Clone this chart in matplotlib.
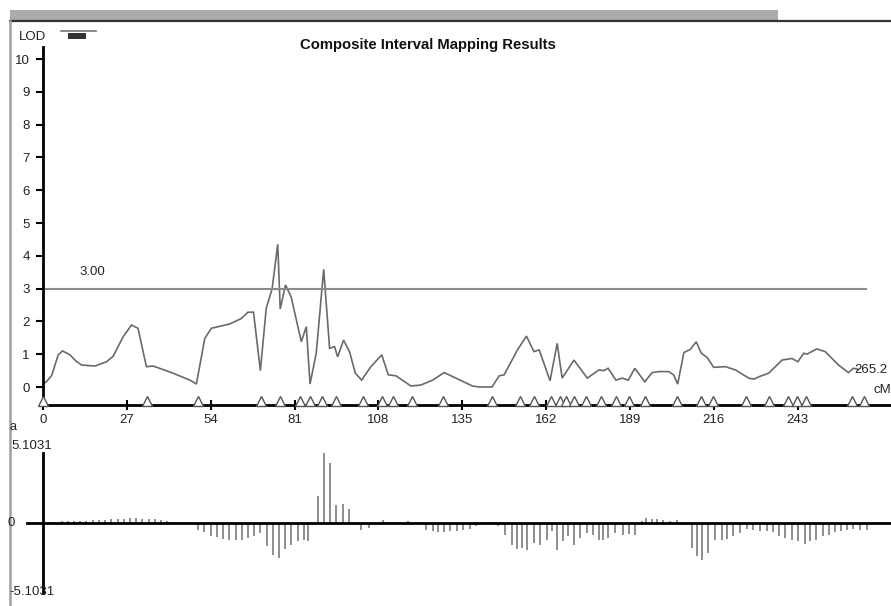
import matplotlib
matplotlib.use("Agg")
import matplotlib.pyplot as plt
from matplotlib.patches import Rectangle
from matplotlib.lines import Line2D

plt.rcParams['font.family'] = ['Liberation Sans', 'DejaVu Sans']

# ---- LOD profile along the chromosome (cM, LOD) ----
lod_cm = [0, 1.0, 2.8, 4.9, 6.3, 8.7, 10.5, 12.4, 16.7, 20.5, 22.6, 25.8, 28.5, 30.6,
          33.3, 35.5, 41.9, 47.3, 49.4, 52.1, 54.2, 60.1, 63.9, 66.0, 67.8, 70.0, 71.9,
          73.8, 75.6, 76.4, 78.1, 79.9, 83.2, 84.8, 86.0, 88.0, 90.4, 92.3, 93.9, 94.9,
          96.8, 98.7, 100.6, 102.6, 105.6, 109.1, 111.2, 113.7, 118.5, 121.7, 125.5,
          129.2, 133.0, 138.3, 140.5, 144.6, 146.9, 148.5, 152.8, 155.7, 158.1, 159.8,
          163.3, 165.6, 167.2, 171.0, 175.3, 179.0, 180.6, 182.0, 184.5, 186.5, 188.5,
          190.6, 193.8, 196.2, 198.3, 201.5, 203.1, 204.4, 206.4, 208.5, 210.4, 212.0,
          213.9, 216.0, 219.8, 223.0, 227.3, 228.9, 230.5, 233.7, 238.0, 241.2, 243.1,
          245.0, 246.0, 249.2, 251.9, 256.2, 259.4, 261.0, 262.5]
lod_val = [0.10, 0.15, 0.35, 0.98, 1.10, 0.98, 0.80, 0.67, 0.64, 0.77, 0.94, 1.53, 1.89, 1.79,
           0.62, 0.64, 0.42, 0.21, 0.09, 1.48, 1.79, 1.92, 2.09, 2.28, 2.28, 0.50, 2.40,
           3.00, 4.35, 2.38, 3.11, 2.75, 1.38, 1.84, 0.09, 1.03, 3.59, 1.18, 1.23, 0.92,
           1.43, 1.08, 0.42, 0.21, 0.62, 0.98, 0.37, 0.34, 0.03, 0.06, 0.21,
           0.44, 0.27, 0.03, 0.00, 0.00, 0.34, 0.37, 1.13, 1.55, 1.08, 1.13,
           0.19, 1.33, 0.27, 0.82, 0.27, 0.52, 0.50, 0.57, 0.21, 0.27, 0.21,
           0.57, 0.16, 0.44, 0.47, 0.47, 0.37, 0.09, 1.05, 1.15, 1.38, 1.03,
           0.90, 0.60, 0.62, 0.52, 0.27, 0.24, 0.31, 0.42, 0.82, 0.87, 0.77,
           1.03, 1.00, 1.16, 1.08, 0.67, 0.44, 0.57, 0.54]

# ---- marker positions (cM) ----
marker_cm = [0, 33.4, 49.8, 70.1, 76.2, 82.9, 86.1, 90.0, 94.5, 102.9, 109.3, 112.8,
             118.9, 128.9, 144.6, 153.6, 158.1, 163.6, 166.5, 168.4, 171.0, 174.9,
             179.7, 184.5, 188.7, 193.8, 204.1, 211.8, 215.7, 226.3, 233.7, 239.8,
             242.7, 245.6, 260.7, 264.5]

# ---- additive effect estimates (cM, a) ----
eff_cm = [4, 6, 8, 10, 12, 14, 16, 18, 20, 22, 24, 26, 28, 30, 32, 34, 36, 38, 40, 42,
          50, 52, 54, 56, 58, 60, 62, 64, 66, 68, 70, 72, 74, 76, 78, 80, 82, 84, 85.5,
          87, 88.5, 90.5, 92.5, 94.5, 96.5, 98.5, 101, 102.5, 105, 109.5, 111.5, 113.5,
          115.5, 117.5, 119.5, 123.5, 125.5, 127.3, 129.3, 131.1, 133.2, 135.4, 137.5,
          139.4, 144, 146.6, 148.8, 150.9, 152.8, 154.2, 156, 158.1, 160, 162.2, 163.8,
          165.6, 167.4, 169.2, 171, 172.9, 175.1, 177.2, 179.2, 180.4, 182.1, 184.2,
          186.7, 188.7, 190.7, 192.8, 194.2, 196, 197.8, 199.8, 201.9, 204.3, 206.8,
          208.9, 210.5, 212.3, 214.3, 216.4, 218.6, 220.4, 222.3, 224.5, 226.6, 228.8,
          230.9, 233.1, 235.2, 237.1, 239, 241.1, 243.3, 245.3, 247, 249, 251.1, 253,
          255.1, 257, 259, 261, 263.1, 265.3]
eff_val = [0.10, 0.12, 0.12, 0.14, 0.15, 0.18, 0.20, 0.22, 0.24, 0.27, 0.29, 0.31, 0.33,
           0.35, 0.32, 0.30, 0.27, 0.22, 0.15, 0.06,
           -0.49, -0.68, -0.92, -1.02, -1.17, -1.26, -1.26, -1.22, -1.09, -0.92, -0.73,
           -1.70, -2.31, -2.55, -1.90, -1.58, -1.34, -1.22, -1.30,
           -0.12, 2.00, 5.10, 4.37, 1.34, 1.41, 1.02, -0.12, -0.49, -0.36, 0.24, 0.08, 0.08,
           0.08, 0.12, 0.08, -0.49, -0.61, -0.68, -0.66, -0.61, -0.61, -0.53, -0.44,
           -0.24, 0.06, -0.24, -0.85, -1.58, -1.90, -1.82, -1.94, -1.46, -1.58, -1.22, -0.61,
           -1.94, -1.34, -0.97, -1.58, -1.09, -0.73, -0.85, -1.22, -1.22, -1.09, -0.73,
           -0.85, -0.78, -0.85, 0.12, 0.36, 0.29, 0.29, 0.24, 0.12, 0.19, -0.12,
           -1.82, -2.43, -2.67, -2.19, -1.22, -1.22, -1.17, -0.97, -0.73, -0.44, -0.49,
           -0.61, -0.61, -0.68, -0.97, -1.09, -1.22, -1.34, -1.50, -1.34, -1.22, -0.97, -0.85,
           -0.68, -0.61, -0.53, -0.44, -0.49, -0.49]

x_ticks = [0, 27, 54, 81, 108, 135, 162, 189, 216, 243]
y_ticks = [0, 1, 2, 3, 4, 5, 6, 7, 8, 9, 10]
threshold = 3.00
chrom_len = 265.2
effect_max = 5.1031

W, H = 891, 606
fig = plt.figure(figsize=(W / 100, H / 100), dpi=100)
fig.patch.set_facecolor('white')


def fx(px):
    return px / W


def fy(py):
    return 1 - py / H


txt = '#222222'
fs = 9.5

# window frame: grey bar, dark rule and left border
fig.add_artist(Rectangle((fx(10), fy(20)), fx(778) - fx(10), fy(10) - fy(20),
                         transform=fig.transFigure, color='#ababab', lw=0))
fig.add_artist(Line2D([fx(10), 1], [fy(21), fy(21)], transform=fig.transFigure,
                      color='#333333', lw=1.6))
fig.add_artist(Line2D([fx(10), fx(10)], [fy(21), 0], transform=fig.transFigure,
                      color='#a0a0a0', lw=1.8))

# legend glyph next to the LOD label
fig.add_artist(Line2D([fx(61), fx(96)], [fy(31), fy(31)], transform=fig.transFigure,
                      color='#777777', lw=1.2))
fig.add_artist(Rectangle((fx(68), fy(39)), fx(86) - fx(68), fy(33) - fy(39),
                         transform=fig.transFigure, color='#333333', lw=0))

fig.text(fx(32), fy(37.5), 'LOD', ha='center', va='center', fontsize=fs, color=txt)
fig.text(fx(428), fy(45), 'Composite Interval Mapping Results', ha='center', va='center',
         fontsize=10.7, fontweight='bold', color='#111111')

# ---- LOD panel ----
px_per_cm = 3.105
px_per_lod = 32.8
ax = fig.add_axes([fx(43), fy(405), fx(891) - fx(43), fy(47) - fy(405)])
ax.set_xlim(0, (891 - 43) / px_per_cm)
ax.set_ylim(-(405 - 387) / px_per_lod, (387 - 47) / px_per_lod)
for s in ('top', 'right'):
    ax.spines[s].set_visible(False)
for s in ('left', 'bottom'):
    ax.spines[s].set_linewidth(2)
    ax.spines[s].set_color('black')

ax.plot(lod_cm, lod_val, color='#6a6a6a', lw=1.2, solid_joinstyle='miter')
ax.plot([0, chrom_len], [threshold, threshold], color='#8a8a8a', lw=1.5)
ax.plot(marker_cm, [-0.42] * len(marker_cm), linestyle='none', marker='^', ms=7,
        mfc='white', mec='#555555', mew=1.0, clip_on=False, zorder=5)

ax.set_xticks(x_ticks)
ax.set_xticklabels([str(t) for t in x_ticks])
ax.set_yticks(y_ticks)
ax.set_yticklabels([str(t) for t in y_ticks])
ax.tick_params(axis='x', direction='inout', length=7, width=1.5, pad=3,
               labelsize=fs, labelcolor=txt)
ax.tick_params(axis='y', direction='out', length=5, width=1.5, pad=4.5,
               labelsize=fs, labelcolor=txt)

# threshold label and chromosome end labels
ax.text((92 - 43) / px_per_cm, (387 - 272) / px_per_lod, f'{threshold:.2f}',
        ha='center', va='center', fontsize=fs, color=txt)
ax.text(chrom_len - 4, 0.52, f'{chrom_len}', ha='left', va='center', fontsize=fs,
        color=txt, clip_on=False)
ax.text(1.0, -0.08, 'cM', ha='right', va='center', fontsize=fs, color=txt,
        transform=ax.get_yaxis_transform())

# ---- additive effect panel ----
bx = fig.add_axes([fx(43), fy(593), fx(891) - fx(43), fy(453) - fy(593)])
bx.set_xlim(ax.get_xlim())
bx.set_ylim(-effect_max, effect_max)
for s in ('top', 'right', 'bottom'):
    bx.spines[s].set_visible(False)
bx.spines['left'].set_linewidth(2)
bx.spines['left'].set_color('black')
bx.set_xticks([])
bx.set_yticks([])
bx.patch.set_alpha(0)

bx.vlines(eff_cm, 0, eff_val, color='#707070', lw=1.1)
bx.plot([-(43 - 27) / (891 - 43), 1], [0, 0], transform=bx.get_yaxis_transform(),
        color='black', lw=2, clip_on=False)

fig.text(fx(10), fy(427), 'a', ha='left', va='center', fontsize=9, color=txt)
fig.text(fx(11), fy(446), f'{effect_max:.4f}', ha='left', va='center', fontsize=fs, color=txt)
fig.text(fx(8), fy(523), '0', ha='left', va='center', fontsize=fs, color=txt)
fig.text(fx(9), fy(592), f'-{effect_max:.4f}', ha='left', va='center', fontsize=fs, color=txt)

fig.savefig('out.png', dpi=100, facecolor='white')
